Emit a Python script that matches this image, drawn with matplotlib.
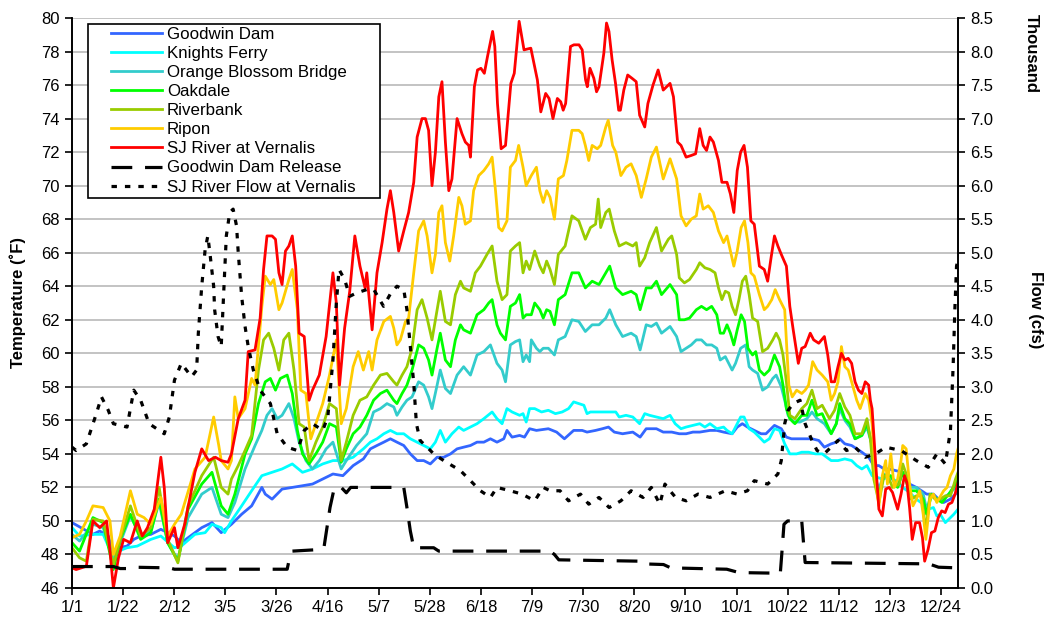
import datetime
import matplotlib
matplotlib.use('Agg')
import matplotlib.pyplot as plt
from matplotlib.patches import Rectangle
from matplotlib.ticker import FormatStrFormatter

plt.rcParams['font.family'] = ['Liberation Sans', 'DejaVu Sans']

# daily water temperature (F), (day of year, value)
goodwin = [(0, 49.9), (8.6, 49.2), (11.4, 49.4), (14.9, 49.1), (17.0, 48.1), (19.1, 48.4), (22.6, 48.5),
           (25.4, 48.9), (28.2, 49.1), (32.4, 49.2), (36.5, 49.5), (42.1, 49.1), (44.9, 48.7), (50.5, 49.3),
           (53.3, 49.6), (57.5, 49.9), (61.3, 49.3), (65.5, 49.8), (69.7, 50.4), (73.8, 50.9), (78.0, 52.0),
           (79.4, 51.6), (82.2, 51.3), (86.3, 51.9), (90.5, 52.0), (94.7, 52.1), (98.8, 52.2), (103.0, 52.5),
           (107.2, 52.8), (111.3, 52.7), (115.5, 53.3), (119.7, 53.7), (122.6, 54.3), (125.3, 54.5),
           (128.1, 54.7), (130.8, 54.9), (133.5, 54.7), (136.3, 54.5), (139.0, 54.0), (141.8, 53.6),
           (144.5, 53.6), (147.2, 53.4), (150.0, 53.8), (152.7, 53.8), (155.5, 54.0), (158.2, 54.3),
           (160.9, 54.4), (163.7, 54.5), (166.4, 54.7), (169.2, 54.7), (171.9, 54.9), (174.6, 54.7),
           (177.4, 54.9), (178.7, 55.4), (180.8, 55.0), (183.9, 55.1), (185.9, 55.0), (188.0, 55.5),
           (190.8, 55.4), (195.7, 55.5), (199.1, 55.3), (202.3, 54.9), (206.1, 55.4), (209.6, 55.4),
           (211.6, 55.3), (215.1, 55.4), (217.9, 55.5), (220.4, 55.6), (222.8, 55.3), (226.2, 55.2),
           (230.4, 55.3), (233.4, 55.0), (235.9, 55.5), (240.1, 55.5), (242.9, 55.3), (246.4, 55.3),
           (249.5, 55.2), (252.3, 55.2), (255.1, 55.3), (257.9, 55.3), (262.1, 55.4), (264.9, 55.4),
           (267.7, 55.3), (271.2, 55.2), (273.3, 55.6), (275.4, 55.8), (277.5, 55.6), (280.3, 55.4),
           (283.1, 55.2), (285.1, 55.2), (287.2, 55.5), (288.6, 55.7), (291.4, 55.5), (293.5, 55.0),
           (295.6, 54.9), (298.4, 54.9), (301.2, 54.9), (304.0, 54.9), (306.8, 54.8), (309.1, 54.4),
           (311.9, 54.6), (314.0, 54.7), (315.4, 54.9), (317.5, 54.6), (320.3, 54.5), (322.4, 54.3),
           (324.5, 54.1), (327.3, 53.8), (329.4, 53.3), (331.5, 53.3), (333.6, 53.1), (335.7, 53.1),
           (338.5, 53.0), (341.3, 52.9), (344.1, 52.2), (346.9, 52.0), (349.0, 51.8), (351.1, 51.6),
           (353.9, 51.6), (356.0, 51.3), (358.1, 51.1), (360.9, 51.3), (363.0, 51.6), (364.0, 51.8)]

knights_ferry = [(0, 49.6), (3.1, 49.1), (8.6, 49.2), (12.8, 49.2), (17.0, 47.8), (19.1, 48.2), (22.6, 48.4),
                 (26.8, 48.5), (32.4, 48.9), (36.5, 49.1), (42.1, 48.4), (44.9, 48.5), (50.5, 49.2),
                 (54.7, 49.3), (57.5, 49.8), (61.3, 49.6), (62.7, 49.3), (65.5, 50.0), (69.7, 50.9),
                 (73.8, 51.8), (78.0, 52.7), (82.2, 52.9), (86.3, 53.1), (90.5, 53.4), (94.7, 52.9),
                 (98.8, 53.1), (103.0, 53.4), (107.2, 53.6), (111.3, 53.6), (115.5, 53.8), (119.7, 54.3),
                 (122.6, 54.7), (125.3, 54.9), (128.1, 55.2), (130.8, 55.4), (133.5, 55.2), (136.3, 55.2),
                 (139.0, 54.9), (141.8, 54.7), (144.5, 54.5), (147.2, 54.3), (149.3, 54.7), (151.3, 55.4),
                 (153.4, 54.7), (156.1, 55.2), (158.9, 55.6), (160.9, 55.4), (163.7, 55.6), (166.4, 55.8),
                 (169.2, 56.1), (172.6, 56.5), (174.6, 56.1), (176.7, 55.8), (178.7, 56.7), (180.8, 56.5),
                 (183.9, 56.3), (185.3, 56.4), (186.6, 55.9), (188.0, 56.7), (190.1, 56.7), (192.9, 56.5),
                 (195.7, 56.6), (198.6, 56.4), (201.4, 56.5), (204.0, 56.7), (206.1, 57.1), (208.2, 57.0),
                 (210.3, 56.9), (211.6, 56.4), (213.0, 56.5), (216.5, 56.5), (220.0, 56.5), (223.4, 56.5),
                 (224.8, 56.2), (227.6, 56.3), (230.4, 56.2), (233.2, 55.8), (235.3, 56.4), (237.3, 56.3),
                 (240.1, 56.2), (242.9, 56.1), (245.7, 56.3), (247.8, 55.8), (250.2, 55.5), (252.3, 55.6),
                 (255.1, 55.7), (257.9, 55.8), (260.0, 55.6), (262.1, 55.8), (264.9, 55.5), (267.7, 55.6),
                 (269.1, 55.4), (271.2, 55.2), (272.6, 55.6), (274.7, 56.2), (276.1, 56.2), (278.2, 55.5),
                 (280.3, 55.3), (282.4, 55.0), (284.4, 54.7), (286.5, 54.9), (288.6, 55.5), (290.7, 55.4),
                 (292.8, 54.6), (294.9, 54.0), (297.7, 54.0), (299.8, 54.1), (302.6, 54.1), (305.4, 54.0),
                 (308.2, 54.0), (311.9, 53.6), (314.7, 53.6), (317.5, 53.7), (320.3, 53.6), (322.4, 53.3),
                 (324.5, 53.1), (326.6, 53.3), (328.7, 52.7), (330.8, 52.6), (332.9, 52.5), (335.7, 52.6),
                 (338.5, 52.4), (341.3, 52.0), (344.1, 51.7), (346.9, 51.3), (349.7, 51.0), (351.8, 50.7),
                 (353.9, 50.8), (355.3, 50.3), (356.7, 50.4), (358.8, 49.9), (360.9, 50.2), (362.3, 50.4),
                 (364.0, 50.7)]

orange_blossom = [(0, 49.2), (3.1, 48.8), (8.6, 49.8), (12.8, 49.6), (17.0, 47.6), (19.8, 48.7), (24.0, 50.3),
                  (28.2, 49.1), (32.4, 49.4), (35.8, 51.1), (39.3, 48.7), (43.5, 47.7), (47.7, 50.2),
                  (53.3, 51.6), (57.5, 52.0), (61.3, 50.4), (64.1, 50.2), (66.9, 51.1), (71.1, 53.1),
                  (75.2, 54.5), (78.0, 55.4), (80.1, 56.3), (82.2, 56.7), (84.3, 56.1), (86.3, 56.3),
                  (89.1, 57.0), (91.2, 56.1), (93.3, 54.7), (96.1, 53.6), (98.8, 53.1), (101.6, 53.6),
                  (104.4, 54.3), (107.2, 54.7), (110.6, 53.1), (112.7, 53.6), (116.9, 54.5), (121.1, 55.2),
                  (123.9, 56.5), (126.7, 56.7), (129.4, 57.0), (132.2, 56.8), (133.5, 56.3), (135.6, 56.8),
                  (137.6, 57.2), (139.7, 57.4), (142.4, 58.3), (144.5, 58.1), (146.5, 57.4), (147.9, 56.7),
                  (150.0, 58.1), (151.3, 59.0), (153.4, 57.9), (155.5, 57.6), (158.2, 58.7), (160.9, 59.2),
                  (163.7, 58.7), (166.4, 59.9), (169.2, 60.1), (171.9, 60.5), (174.6, 59.4), (176.7, 59.0),
                  (178.1, 58.3), (180.1, 60.5), (182.2, 60.7), (183.9, 60.8), (185.3, 59.5), (186.6, 59.9),
                  (188.0, 59.5), (188.7, 60.8), (190.8, 60.3), (192.2, 60.1), (193.6, 60.3), (195.7, 60.3),
                  (198.2, 59.9), (199.8, 60.8), (202.6, 61.0), (205.4, 62.0), (208.2, 61.9), (210.9, 61.3),
                  (213.7, 61.7), (216.5, 61.7), (219.3, 62.1), (220.9, 62.6), (223.4, 61.7), (226.2, 61.0),
                  (229.7, 61.2), (231.8, 61.0), (233.4, 60.2), (235.9, 61.7), (238.0, 61.6), (240.1, 61.8),
                  (242.2, 61.2), (245.7, 61.6), (248.4, 61.0), (250.2, 60.1), (252.3, 60.3), (254.4, 60.5),
                  (256.5, 60.8), (258.6, 60.8), (260.7, 60.5), (262.8, 60.5), (264.9, 60.3), (266.3, 59.6),
                  (268.4, 59.8), (269.8, 59.4), (271.2, 59.0), (272.6, 59.4), (274.7, 60.3), (276.8, 60.5),
                  (278.2, 59.2), (279.6, 59.0), (281.7, 58.8), (283.7, 57.8), (285.8, 58.0), (287.9, 58.5),
                  (289.3, 58.7), (291.4, 58.0), (292.8, 57.2), (294.2, 56.3), (296.3, 55.9), (299.1, 55.9),
                  (301.9, 56.1), (304.0, 56.5), (306.1, 56.1), (309.1, 55.8), (311.9, 55.2), (314.0, 55.8),
                  (315.4, 56.7), (317.5, 56.0), (319.6, 55.6), (321.7, 54.9), (324.5, 55.1), (326.6, 55.6),
                  (328.7, 54.5), (330.1, 52.5), (331.5, 51.9), (333.6, 52.8), (336.4, 52.6), (339.2, 52.1),
                  (341.3, 52.9), (344.1, 52.0), (346.9, 52.0), (349.7, 51.6), (351.1, 50.7), (353.2, 51.6),
                  (355.3, 51.3), (357.4, 51.3), (360.2, 51.6), (363.0, 52.0), (364.0, 52.2)]

oakdale = [(0, 48.7), (3.1, 48.2), (8.6, 50.2), (12.8, 49.9), (17.0, 47.1), (19.8, 48.9), (24.0, 50.4),
           (28.2, 48.9), (32.4, 49.3), (35.8, 51.3), (39.3, 48.7), (43.5, 47.6), (47.7, 50.7), (53.3, 52.2),
           (57.5, 52.9), (61.3, 50.9), (64.1, 50.4), (66.9, 51.6), (71.1, 54.0), (73.8, 54.9), (76.6, 57.0),
           (79.4, 58.3), (81.5, 58.5), (83.6, 57.8), (85.6, 58.5), (88.4, 58.7), (90.5, 57.6), (92.6, 55.4),
           (94.7, 54.0), (97.4, 53.4), (100.2, 54.0), (103.0, 54.7), (105.8, 55.8), (108.6, 55.6),
           (110.6, 53.5), (112.7, 54.3), (115.5, 55.2), (118.3, 55.6), (121.1, 56.3), (123.9, 57.2),
           (126.7, 57.6), (129.4, 57.8), (132.2, 57.2), (133.5, 57.0), (135.6, 57.6), (137.6, 58.1),
           (139.7, 59.0), (142.4, 60.5), (144.5, 60.3), (146.5, 59.6), (147.9, 58.7), (150.0, 60.3),
           (151.3, 61.2), (153.4, 59.6), (155.5, 59.2), (157.5, 60.8), (159.6, 61.7), (160.9, 61.4),
           (163.7, 61.2), (166.4, 62.3), (169.2, 62.6), (171.2, 63.0), (172.6, 63.2), (174.6, 61.7),
           (176.0, 61.2), (178.1, 60.8), (180.1, 62.8), (182.2, 63.0), (183.9, 63.5), (185.3, 62.1),
           (186.6, 62.3), (188.7, 62.3), (190.1, 63.0), (192.2, 62.6), (193.6, 62.1), (195.0, 62.6),
           (196.4, 62.5), (198.2, 61.7), (199.8, 63.2), (202.6, 63.5), (205.4, 64.8), (208.2, 64.8),
           (210.9, 63.9), (213.7, 64.3), (216.5, 64.1), (219.3, 64.8), (220.9, 65.2), (223.4, 63.9),
           (226.2, 63.5), (229.7, 63.7), (231.8, 63.5), (233.4, 62.6), (235.9, 63.9), (238.0, 63.9),
           (240.1, 64.3), (242.2, 63.5), (245.7, 64.1), (248.4, 63.5), (249.5, 62.0), (251.6, 62.0),
           (253.7, 62.1), (256.5, 62.6), (258.6, 62.8), (260.7, 62.6), (262.8, 62.8), (264.9, 62.3),
           (266.3, 61.2), (267.7, 61.2), (269.1, 61.7), (270.5, 61.2), (271.9, 60.5), (273.3, 61.4),
           (274.9, 62.3), (276.3, 61.9), (277.7, 60.3), (279.6, 59.9), (280.9, 60.1), (282.4, 59.0),
           (284.4, 58.7), (286.5, 59.0), (288.6, 59.9), (290.7, 59.2), (292.1, 58.1), (293.5, 56.7),
           (294.9, 56.1), (297.0, 55.8), (299.8, 56.3), (301.9, 56.3), (304.0, 57.2), (306.1, 56.3),
           (308.2, 56.4), (311.9, 55.2), (314.0, 55.8), (315.4, 57.0), (317.5, 56.1), (319.6, 55.8),
           (321.7, 54.9), (324.5, 55.1), (326.6, 55.8), (328.7, 54.5), (330.1, 52.2), (331.5, 51.6),
           (333.6, 52.7), (336.4, 52.7), (339.2, 52.0), (341.3, 52.9), (344.1, 51.8), (346.9, 51.8),
           (349.7, 51.3), (351.1, 50.4), (353.2, 51.6), (355.3, 51.3), (357.4, 51.1), (360.2, 51.6),
           (363.0, 52.2), (364.0, 52.5)]

riverbank = [(0, 48.4), (3.1, 47.8), (5.9, 47.6), (8.6, 50.1), (12.8, 50.0), (17.0, 47.4), (19.8, 48.9),
             (24.0, 50.9), (28.2, 49.1), (32.4, 49.6), (35.8, 52.0), (39.3, 48.9), (43.5, 47.5), (47.7, 50.9),
             (53.3, 52.7), (58.2, 53.8), (61.3, 52.0), (64.1, 51.6), (65.5, 52.5), (68.3, 53.3), (71.1, 54.2),
             (73.8, 55.1), (76.6, 59.0), (78.7, 60.8), (80.8, 61.2), (82.9, 60.3), (85.0, 59.0), (87.0, 60.8),
             (89.1, 61.2), (91.2, 59.0), (93.3, 55.8), (95.4, 55.6), (97.4, 53.6), (100.2, 54.7),
             (103.0, 55.6), (105.8, 57.0), (108.6, 56.7), (110.6, 53.6), (112.7, 54.7), (115.5, 56.3),
             (118.3, 57.2), (121.1, 57.4), (123.9, 58.1), (126.7, 58.7), (129.4, 58.8), (132.2, 58.3),
             (133.5, 58.1), (135.6, 58.7), (137.6, 59.2), (139.7, 60.3), (141.8, 62.6), (143.8, 63.2),
             (145.9, 62.1), (147.9, 60.8), (150.0, 62.6), (151.3, 63.7), (153.4, 61.9), (155.5, 61.7),
             (157.5, 63.5), (159.6, 64.3), (160.9, 63.9), (163.7, 63.7), (165.7, 64.8), (167.8, 65.2),
             (170.5, 65.9), (172.6, 66.4), (174.6, 64.3), (176.7, 63.2), (178.7, 63.5), (180.1, 66.1),
             (182.2, 66.4), (183.9, 66.6), (185.3, 64.8), (186.6, 65.5), (188.0, 65.0), (190.1, 66.1),
             (192.2, 65.2), (193.6, 64.8), (195.0, 65.5), (196.4, 65.0), (198.2, 64.1), (199.8, 65.9),
             (202.6, 66.4), (205.4, 68.2), (208.2, 67.9), (210.9, 66.8), (213.0, 67.5), (215.1, 67.7),
             (216.2, 69.2), (217.2, 67.5), (219.3, 68.4), (220.7, 68.6), (222.8, 67.3), (224.8, 66.4),
             (227.6, 66.6), (230.4, 66.4), (231.8, 66.6), (233.2, 65.2), (235.3, 65.7), (237.3, 66.6),
             (240.1, 67.5), (242.2, 66.1), (245.0, 66.8), (246.4, 67.0), (248.4, 65.9), (249.5, 64.5),
             (251.6, 64.2), (253.7, 64.4), (256.5, 65.0), (257.9, 65.4), (260.0, 65.1), (262.1, 65.0),
             (264.2, 64.8), (265.6, 63.9), (267.0, 63.2), (268.4, 63.7), (269.8, 63.6), (271.2, 62.8),
             (272.6, 62.3), (274.0, 63.2), (275.4, 64.3), (276.8, 64.6), (278.2, 63.5), (279.6, 62.1),
             (281.7, 61.9), (283.7, 60.1), (285.8, 60.3), (287.9, 60.8), (289.3, 61.2), (290.7, 60.8),
             (292.1, 59.9), (293.5, 58.3), (294.9, 56.3), (297.0, 56.1), (299.8, 56.7), (301.9, 57.0),
             (304.0, 57.8), (306.1, 56.7), (308.2, 56.9), (311.2, 56.1), (313.3, 56.6), (315.4, 57.6),
             (317.5, 56.8), (319.6, 56.3), (321.7, 55.2), (324.5, 55.2), (326.6, 56.1), (328.0, 54.9),
             (329.4, 52.5), (331.5, 51.1), (333.6, 52.7), (335.7, 52.5), (337.1, 52.0), (339.9, 52.2),
             (341.3, 53.4), (343.4, 52.5), (344.8, 51.3), (346.9, 51.5), (349.0, 51.5), (350.8, 49.4),
             (352.5, 51.6), (354.6, 51.3), (356.7, 51.3), (358.8, 51.5), (360.9, 51.5), (363.0, 52.5),
             (364.0, 52.9)]

ripon = [(0, 49.0), (3.1, 49.2), (5.9, 50.0), (8.6, 50.9), (12.8, 50.8), (15.6, 50.0), (17.0, 48.0), (19.8, 49.1),
         (24.0, 51.8), (26.8, 50.4), (29.6, 50.2), (32.4, 49.8), (36.5, 51.4), (39.3, 49.1), (42.1, 49.8),
         (44.9, 50.4), (50.5, 53.1), (54.7, 53.8), (58.2, 56.2), (60.3, 54.5), (61.3, 53.6), (64.1, 53.1),
         (65.5, 53.6), (66.9, 57.4), (68.3, 56.1), (71.1, 56.7), (73.8, 58.5), (75.2, 58.1), (78.0, 62.8),
         (79.4, 64.6), (81.5, 64.1), (82.9, 64.4), (85.0, 62.6), (86.3, 63.0), (89.1, 64.4), (90.5, 65.0),
         (92.6, 62.6), (94.0, 57.8), (96.1, 57.6), (98.1, 54.9), (100.2, 55.8), (103.0, 57.0), (105.8, 58.7),
         (108.6, 60.8), (110.6, 55.8), (112.7, 56.7), (115.5, 59.2), (117.6, 60.1), (119.7, 59.0),
         (121.9, 60.1), (123.3, 59.0), (125.3, 60.8), (128.1, 61.9), (130.8, 62.2), (132.2, 61.5),
         (133.5, 60.5), (134.9, 60.8), (137.0, 61.9), (138.3, 62.1), (140.4, 64.8), (142.4, 67.3),
         (144.5, 67.9), (145.9, 67.0), (147.9, 64.8), (149.3, 65.9), (150.7, 68.4), (152.0, 68.8),
         (153.4, 66.6), (155.2, 65.5), (156.8, 67.0), (158.9, 69.3), (160.2, 68.8), (161.6, 67.7),
         (163.7, 67.9), (165.0, 69.7), (167.1, 70.6), (169.2, 70.9), (171.2, 71.3), (172.6, 71.7),
         (174.0, 69.7), (175.3, 67.5), (176.7, 67.3), (178.7, 67.9), (180.1, 71.1), (182.2, 71.5),
         (183.5, 72.4), (185.3, 71.1), (186.6, 70.0), (188.7, 70.6), (190.8, 71.1), (192.2, 69.7),
         (193.6, 69.0), (195.0, 69.7), (196.4, 69.3), (198.2, 68.0), (199.8, 70.4), (201.9, 70.6),
         (203.3, 71.5), (205.4, 73.3), (208.2, 73.3), (209.6, 73.1), (210.9, 72.4), (212.3, 71.5),
         (213.7, 72.4), (215.8, 72.2), (217.2, 72.4), (219.3, 73.5), (220.3, 73.9), (222.1, 72.4),
         (223.4, 72.0), (225.5, 70.6), (227.6, 71.1), (229.7, 71.3), (231.8, 70.6), (233.9, 69.3),
         (235.9, 70.4), (238.0, 71.7), (240.1, 72.3), (242.9, 70.4), (245.7, 71.6), (248.4, 70.4),
         (250.2, 68.2), (252.3, 67.6), (254.4, 68.0), (256.5, 68.2), (257.9, 69.5), (259.3, 68.6),
         (261.4, 68.8), (263.5, 68.4), (265.6, 67.3), (267.7, 66.6), (269.1, 67.0), (270.5, 66.1),
         (271.9, 65.2), (273.3, 66.1), (274.9, 67.5), (276.3, 67.9), (277.7, 66.6), (278.9, 64.8),
         (280.3, 64.6), (282.4, 63.5), (284.4, 62.6), (285.8, 62.8), (287.5, 63.2), (288.9, 63.8),
         (290.7, 63.2), (292.8, 62.6), (294.5, 58.1), (295.9, 57.4), (297.7, 57.8), (299.8, 57.6),
         (301.2, 57.8), (302.6, 58.1), (304.3, 59.5), (306.1, 59.0), (308.2, 58.7), (310.5, 58.3),
         (311.9, 57.2), (313.3, 57.6), (314.7, 58.3), (316.1, 60.4), (317.5, 59.2), (318.9, 59.0),
         (320.3, 58.3), (322.4, 57.2), (323.8, 56.7), (325.9, 57.6), (327.3, 57.2), (328.7, 55.8),
         (330.1, 52.5), (331.5, 50.9), (332.9, 52.7), (334.3, 53.6), (335.0, 52.2), (336.4, 54.0),
         (337.8, 52.0), (339.2, 52.5), (340.6, 53.6), (341.3, 54.5), (342.7, 54.3), (344.1, 52.2),
         (345.5, 50.9), (346.9, 51.3), (348.3, 51.8), (349.7, 50.4), (350.8, 48.9), (352.5, 51.3),
         (353.9, 51.6), (355.3, 51.1), (358.1, 51.8), (359.5, 52.0), (360.9, 52.7), (362.3, 53.1),
         (363.4, 54.0), (364.0, 54.3)]

vernalis = [(0, 47.2), (1.7, 47.1), (5.9, 47.3), (8.6, 50.0), (11.4, 49.6), (14.2, 50.0), (15.6, 48.2),
            (17.0, 46.0), (19.1, 47.8), (21.2, 48.9), (24.0, 48.7), (26.8, 50.0), (28.9, 49.1), (31.0, 49.6),
            (33.8, 50.7), (36.5, 53.8), (37.9, 52.0), (39.3, 48.7), (42.1, 49.6), (43.5, 48.4), (46.3, 49.8),
            (50.5, 52.9), (53.3, 54.3), (56.1, 53.6), (58.9, 53.8), (61.3, 53.6), (64.1, 53.5), (65.5, 54.0),
            (68.3, 56.1), (71.1, 57.2), (72.4, 60.1), (75.2, 60.2), (77.3, 62.1), (78.7, 65.0), (80.1, 67.0),
            (82.2, 67.0), (83.6, 66.8), (85.0, 64.8), (86.3, 64.1), (87.7, 66.1), (89.1, 66.4), (90.5, 67.0),
            (91.9, 65.2), (93.3, 61.2), (95.4, 61.0), (97.4, 57.2), (98.8, 57.8), (101.6, 58.7),
            (104.4, 61.0), (107.2, 64.8), (108.6, 63.0), (109.9, 58.1), (112.0, 61.5), (114.1, 63.7),
            (116.2, 67.0), (118.3, 65.2), (120.4, 63.9), (121.1, 64.8), (123.3, 61.4), (125.3, 64.8),
            (127.4, 66.6), (129.4, 68.6), (130.8, 69.7), (132.2, 68.4), (134.2, 66.1), (136.3, 67.3),
            (138.3, 68.4), (140.4, 70.2), (141.8, 72.9), (143.8, 74.0), (145.2, 74.0), (146.5, 73.3),
            (147.9, 70.0), (149.3, 72.0), (150.7, 75.3), (152.0, 76.2), (153.4, 72.6), (154.8, 69.7),
            (156.1, 70.4), (158.2, 74.0), (160.2, 73.1), (161.6, 72.6), (163.0, 72.4), (163.7, 71.7),
            (165.3, 75.9), (166.6, 76.9), (168.0, 77.0), (169.4, 76.7), (170.7, 77.7), (172.8, 79.2),
            (173.7, 78.3), (174.8, 74.9), (176.3, 72.2), (178.1, 72.4), (180.3, 76.1), (181.7, 76.7),
            (183.7, 79.8), (185.7, 78.1), (188.5, 78.2), (189.8, 77.3), (191.2, 76.3), (192.6, 74.4),
            (194.6, 75.5), (196.0, 75.2), (197.6, 74.0), (199.4, 75.2), (200.8, 75.0), (201.8, 74.5),
            (202.8, 74.9), (204.8, 78.3), (206.2, 78.4), (208.3, 78.4), (209.6, 78.1), (211.0, 76.3),
            (211.7, 75.9), (212.8, 77.0), (214.4, 76.4), (215.5, 75.6), (216.5, 75.9), (218.5, 77.9),
            (219.6, 79.7), (220.6, 79.2), (221.9, 77.5), (223.3, 76.1), (224.6, 74.5), (225.3, 74.5),
            (226.7, 75.7), (228.3, 76.6), (230.1, 76.4), (231.8, 76.2), (233.2, 74.2), (235.3, 73.5),
            (236.6, 74.9), (238.7, 76.0), (240.8, 76.9), (242.9, 75.7), (245.7, 76.1), (247.1, 75.3),
            (248.8, 72.6), (250.2, 72.4), (252.3, 71.7), (254.4, 71.8), (256.2, 71.9), (257.9, 73.4),
            (259.3, 72.4), (260.7, 72.1), (262.1, 72.9), (263.5, 72.6), (265.6, 71.5), (267.0, 70.2),
            (269.1, 70.2), (270.5, 69.5), (271.9, 68.4), (273.3, 70.9), (274.7, 72.0), (276.1, 72.4),
            (277.5, 71.1), (278.9, 67.9), (280.3, 67.7), (282.4, 65.2), (284.4, 65.0), (285.8, 64.3),
            (287.2, 65.7), (288.6, 67.0), (290.0, 66.4), (291.4, 65.9), (293.5, 65.2), (294.9, 62.8),
            (296.3, 61.4), (298.4, 59.4), (299.8, 60.3), (301.2, 60.4), (303.3, 61.2), (304.7, 60.8),
            (306.8, 60.6), (309.1, 61.0), (310.5, 59.9), (311.9, 58.3), (313.3, 58.3), (314.7, 59.2),
            (316.1, 60.0), (317.5, 59.6), (318.9, 59.7), (320.3, 59.4), (321.7, 58.3), (323.1, 57.8),
            (324.5, 57.6), (325.9, 58.3), (327.3, 58.1), (328.0, 57.2), (328.7, 56.7), (330.1, 53.6),
            (331.5, 50.7), (332.9, 50.3), (334.3, 51.9), (335.7, 52.0), (337.1, 51.7), (339.2, 50.7),
            (340.6, 51.6), (342.0, 52.7), (343.0, 52.3), (344.1, 50.8), (345.2, 48.9), (346.6, 49.9),
            (348.2, 49.9), (349.4, 49.0), (350.3, 47.6), (351.7, 48.3), (353.1, 49.3), (354.5, 49.4),
            (355.9, 50.2), (357.3, 50.6), (358.7, 50.5), (360.1, 51.0), (361.5, 51.1), (362.8, 51.6),
            (364.0, 52.3)]

# flow, thousand cfs
release = [(0, 0.32), (17.0, 0.32), (19.8, 0.29), (22.6, 0.29), (25.4, 0.31), (40.0, 0.30), (42.1, 0.28),
           (88.4, 0.28), (89.1, 0.40), (90.5, 0.55), (100.0, 0.57), (103.5, 0.60), (106.0, 1.20),
           (107.8, 1.50), (110.6, 1.50), (112.7, 1.42), (114.5, 1.50), (136.3, 1.50), (137.6, 1.20),
           (139.0, 0.85), (140.4, 0.60), (148.6, 0.60), (150.7, 0.55), (196.4, 0.55), (198.2, 0.50),
           (200.0, 0.42), (233.2, 0.40), (234.6, 0.36), (243.0, 0.35), (246.0, 0.30), (269.0, 0.28),
           (274.0, 0.23), (291.0, 0.22), (291.8, 0.60), (292.5, 0.95), (294.0, 1.00), (299.8, 1.00),
           (300.7, 0.60), (301.2, 0.38), (352.0, 0.36), (356.0, 0.31), (364.0, 0.30)]

vernalis_flow = [(0, 2.10), (1.7, 2.05), (5.9, 2.15), (10.0, 2.60), (12.1, 2.85), (14.9, 2.65), (17.0, 2.45),
                 (22.6, 2.40), (25.4, 2.95), (28.2, 2.80), (31.7, 2.45), (37.9, 2.30), (40.0, 2.55),
                 (42.1, 3.10), (44.9, 3.35), (49.1, 3.15), (51.2, 3.25), (51.9, 3.80), (53.3, 4.50),
                 (54.7, 5.05), (55.8, 5.25), (56.8, 4.95), (58.2, 4.50), (58.6, 4.15), (60.0, 3.75),
                 (61.3, 3.60), (63.4, 5.25), (64.8, 5.60), (66.2, 5.65), (67.6, 5.40), (68.3, 5.00),
                 (69.7, 4.35), (71.1, 3.90), (72.4, 3.60), (74.5, 3.25), (77.3, 2.95), (81.5, 2.75),
                 (84.3, 2.30), (88.4, 2.10), (92.6, 2.05), (95.4, 2.35), (98.8, 2.45), (103.0, 2.35),
                 (105.1, 2.55), (107.2, 3.40), (108.6, 4.25), (109.7, 4.75), (112.0, 4.60), (114.1, 4.35),
                 (116.9, 4.40), (121.1, 4.45), (124.0, 4.45), (128.0, 4.20), (131.0, 4.40), (133.5, 4.50),
                 (136.3, 4.45), (137.6, 4.15), (139.0, 3.60), (140.4, 3.05), (141.5, 2.45), (143.0, 2.20),
                 (145.9, 2.10), (148.6, 2.00), (152.7, 1.90), (159.6, 1.75), (163.7, 1.60), (167.8, 1.45),
                 (171.9, 1.35), (174.6, 1.50), (180.0, 1.45), (184.9, 1.40), (190.1, 1.30), (193.6, 1.50),
                 (196.4, 1.45), (200.5, 1.45), (204.0, 1.30), (208.9, 1.40), (212.3, 1.25), (216.5, 1.35),
                 (220.7, 1.20), (225.5, 1.30), (229.7, 1.45), (234.6, 1.35), (238.0, 1.50), (241.5, 1.25),
                 (243.6, 1.55), (245.7, 1.45), (248.0, 1.35), (252.3, 1.30), (257.2, 1.40), (262.1, 1.35),
                 (268.4, 1.45), (273.3, 1.40), (277.5, 1.45), (280.3, 1.60), (285.8, 1.55), (290.0, 1.70),
                 (291.4, 1.90), (292.8, 2.45), (294.2, 2.65), (296.3, 2.75), (299.1, 2.80), (301.2, 2.45),
                 (304.0, 2.20), (306.1, 2.05), (309.0, 2.00), (314.7, 2.20), (318.2, 2.05), (321.7, 2.10),
                 (325.9, 1.95), (330.1, 2.00), (334.3, 2.10), (340.6, 2.05), (346.9, 1.90), (351.8, 1.80),
                 (355.3, 2.00), (358.8, 1.85), (360.9, 2.35), (362.0, 3.30), (362.7, 4.15), (363.4, 4.80),
                 (364.0, 4.90)]

temp_series = [
    ('Goodwin Dam', goodwin, '#3366FF'),
    ('Knights Ferry', knights_ferry, '#00FFFF'),
    ('Orange Blossom Bridge', orange_blossom, '#33CCCC'),
    ('Oakdale', oakdale, '#00FF00'),
    ('Riverbank', riverbank, '#99CC00'),
    ('Ripon', ripon, '#FFCC00'),
    ('SJ River at Vernalis', vernalis, '#FF0000'),
]
flow_series = [
    ('Goodwin Dam Release', release, (0, (6.5, 4.0))),
    ('SJ River Flow at Vernalis', vernalis_flow, (0, (1.7, 2.5))),
]

tick_days = list(range(0, 358, 21))
start = datetime.date(2001, 1, 1)
tick_labels = []
for d in tick_days:
    t = start + datetime.timedelta(days=d)
    tick_labels.append(f'{t.month}/{t.day}')

W, H = 1047, 625
fig = plt.figure(figsize=(W / 100, H / 100), dpi=100)
ax = fig.add_axes([72 / W, 1 - 588 / H, (958 - 72) / W, (588 - 18) / H])
ax2 = ax.twinx()

handles = []
for name, pts, color in temp_series:
    x, y = zip(*pts)
    line, = ax.plot(x, y, color=color, lw=2.0, label=name)
    handles.append(line)
for name, pts, ls in flow_series:
    x, y = zip(*pts)
    line, = ax2.plot(x, y, color='black', lw=2.3, linestyle=ls, label=name)
    handles.append(line)

ax.set_xlim(0, 364)
ax.set_ylim(46, 80)
ax.set_yticks(range(46, 81, 2))
ax2.set_ylim(0, 8.5)
ax2.set_yticks([i * 0.5 for i in range(18)])
ax2.yaxis.set_major_formatter(FormatStrFormatter('%.1f'))
ax.set_xticks(tick_days)
ax.set_xticklabels(tick_labels)

ax.grid(axis='y', color='#BEBEBE', lw=1.3)
ax.set_axisbelow(True)
for a in (ax, ax2):
    a.spines['top'].set_visible(False)
    for s in ('left', 'right', 'bottom'):
        a.spines[s].set_linewidth(1.2)
    a.tick_params(direction='out', length=5, width=1.2, labelsize=12, pad=4)

fig.text(18 / W, 1 - 303 / H, 'Temperature (˚F)', rotation=90, ha='center', va='center',
         fontsize=12, fontweight='bold')
fig.text(1036 / W, 1 - 310 / H, 'Flow (cfs)', rotation=270, ha='center', va='center',
         fontsize=12, fontweight='bold')
fig.text(1031 / W, 1 - 54 / H, 'Thousand', rotation=270, ha='center', va='center',
         fontsize=12, fontweight='bold')

# legend box drawn separately so the keys can sit inset from the frame
box = Rectangle((88 / W, 1 - 198 / H), (380 - 88) / W, (198 - 24) / H, transform=fig.transFigure,
                facecolor='white', edgecolor='black', lw=1.2, zorder=8, clip_on=False)
ax2.add_patch(box)
leg = ax2.legend(handles, [h.get_label() for h in handles], loc='upper left',
                 bbox_to_anchor=(111 / W, 1 - 27 / H), bbox_transform=fig.transFigure,
                 frameon=False, borderpad=0, borderaxespad=0, fontsize=12.2,
                 handlelength=3.0, handletextpad=0.3, labelspacing=0.24)
leg.set_zorder(9)

fig.savefig('out.png', dpi=100)
